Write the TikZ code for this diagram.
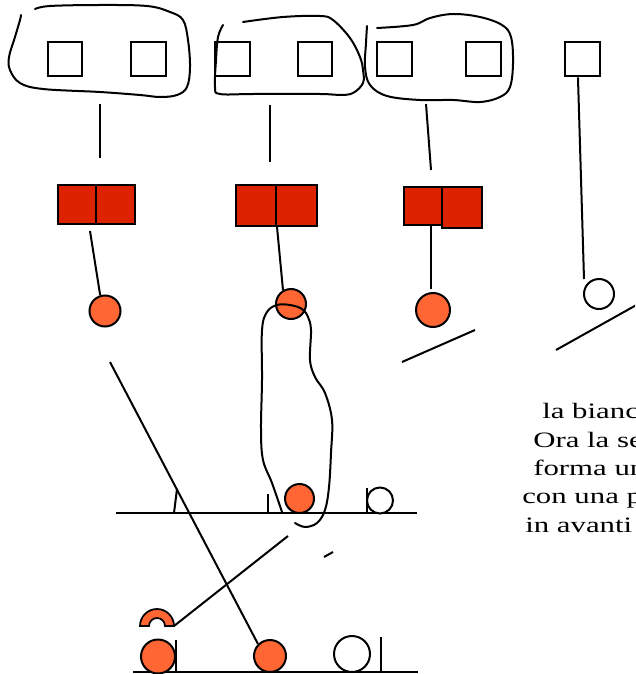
\documentclass[tikz,border=0pt]{standalone}
\usepackage{fontspec}
\setmainfont{Liberation Serif}
\usepackage{graphicx}
\usepackage{tikz}
\usetikzlibrary{calc}
\definecolor{chred}{RGB}{221,34,0}
\definecolor{chorange}{RGB}{255,102,51}

\begin{document}
\begin{tikzpicture}[
  x=0.75pt, y=-0.75pt,
  slot/.style={draw, line width=1.5pt, minimum width=26pt, minimum height=26pt, inner sep=0pt},
  redslot/.style={slot, fill=chred, minimum width=29pt, minimum height=29pt},
  ball/.style={circle, draw, line width=1.5pt, fill=chorange, inner sep=0pt, minimum size=#1},
  wball/.style={ball=#1, fill=white},
  link/.style={line width=1.5pt},
  hand/.style={line width=1.5pt, line cap=round, line join=round},
  note/.style={anchor=base west, inner sep=0pt, font=\fontsize{16.5}{19}\selectfont}
]
\useasboundingbox (0,0) rectangle (635,674);
\clip (0,0) rectangle (635,674);

% --- top row: empty slots ---
\foreach \n/\x in {s1/65, s2/148.5, s3/232.5, s4/315, s5/394.5, s6/483.5, s7/582.5}
  \node[slot] (\n) at (\x,59) {};

% --- hand drawn groups round the slots ---
\draw[hand] plot[smooth, tension=0.6] coordinates {
  (35,9) (50,6) (100,5) (147,6) (170,12) (183,20) (188,40) (190,67) (187,87)
  (177,95) (160,97) (140,95) (100,92) (43,89) (20,83) (10,70) (9,57) (15,37) (20,20) (21,15)};
\draw[hand] plot[smooth, tension=0.6] coordinates {
  (243,22) (283,17) (320,16) (333,20) (350,38) (360,57) (363,70) (363,83) (353,93)
  (340,95) (320,94) (253,94) (220,94) (215,87) (216,60) (218,37) (223,25)};
\draw[hand] plot[smooth, tension=0.6] coordinates {
  (377,28) (413,25) (430,18) (453,14) (480,17) (502,25) (511,37) (513,63) (510,87)
  (500,97) (480,102) (453,100) (420,100) (387,96) (370,85) (365,67) (366,43) (367,26)};

% --- links from the groups down to the red pairs ---
\coordinate (k1) at (100,104); \coordinate (k1e) at (100,158);
\coordinate (k2) at (270,105); \coordinate (k2e) at (270,162);
\coordinate (k3) at (426,104); \coordinate (k3e) at (431,170);
\foreach \a/\b in {k1/k1e, k2/k2e, k3/k3e} { \draw[link] (\a) -- (\b); }

% --- red pairs ---
\node[redslot] (r1a) at (77,204.5) {};
\node[redslot] (r1b) at (115.5,204.5) {};
\node[redslot, minimum width=30pt, minimum height=30.5pt] (r2a) at (256,205.5) {};
\node[redslot, minimum width=30.5pt, minimum height=30.5pt] (r2b) at (296.5,205.5) {};
\node[redslot, minimum width=28.5pt, minimum height=28.5pt] (r3a) at (423,206) {};
\node[redslot, minimum width=30pt, minimum height=30.5pt] (r3b) at (462,207.5) {};

% --- hanging balls ---
\node[ball=23.25pt] (c1) at (105,311) {};
\node[ball=22.5pt] (c2) at (291,304) {};
\node[ball=25.5pt] (c3) at (433,310) {};
\node[wball=22.5pt] (c4) at (599,294) {};

\coordinate (p1) at (90,231);
\coordinate (q3) at (431,289);
\coordinate (q4) at (584,279);
\draw[link] (p1) -- (c1.107);
\draw[link] (r2a.south east) -- (c2.120);
\draw[link] ([xshift=6pt]r3a.south) -- (q3);
\draw[link] ([xshift=-3.4pt]s7.south) -- (q4);

% ramps under the right balls
\coordinate (m3a) at (402,362); \coordinate (m3b) at (475,330);
\coordinate (m4a) at (556,350); \coordinate (m4b) at (640,303);
\draw[link] (m3a) -- (m3b);
\draw[link] (m4a) -- (m4b);

% --- middle track ---
\coordinate (t1a) at (116,513); \coordinate (t1b) at (417,513);
\draw[link] (t1a) -- (t1b);
\draw[link] (174,513) -- (177,489);
\draw[link] (268,513) -- (268,494);
\draw[link] (367,513) -- (367,488);
\node[ball=21.75pt] (m1) at (299.5,498.5) {};
\node[wball=19.5pt] (m2) at (380,500.5) {};

% --- bottom track ---
\coordinate (t2a) at (133,672); \coordinate (t2b) at (418,672);
\draw[link] (t2a) -- (t2b);
\draw[link] (176,672) -- (176,640);
\draw[link] (381,672) -- (381,637);
\node[ball=25.5pt] (b1) at (158,656.5) {};
\node[ball=24pt] (b2) at (270,656) {};
\node[wball=27pt] (b3) at (352,654) {};

% half ring above the first bottom ball
\filldraw[fill=chorange, line width=1.3pt] (140,626) arc[start angle=180, end angle=360, radius=17]
  -- (165,626) arc[start angle=0, end angle=-180, radius=8] -- cycle;
\coordinate (cap) at (174,626);

% --- crossing links ---
\coordinate (x1) at (110,362);
\coordinate (x2) at (288,536);
\draw[link] (x1) -- (b2.135);
\draw[link] (x2) -- (cap);
\draw[link] (324,557) -- (333,552);

% tall loop round the second ball
\draw[hand] plot[smooth, tension=0.6] coordinates {
  (282,512) (272,483) (263,460) (261,430) (262,380) (262,330) (267,312) (277,305)
  (290,305) (302,309) (308,317) (311,330) (310,360) (315,377) (325,393) (332,420)
  (331,453) (329,487) (325,510) (317,523) (305,527) (295,523)};

% --- note on the right ---
\node[note] (n1) at (542,418) {\scalebox{1.4}[1]{la bianca}};
\node[note] (n2) at (533,447) {\scalebox{1.4}[1]{Ora la se}};
\node[note] (n3) at (533,475) {\scalebox{1.4}[1]{forma un}};
\node[note] (n4) at (522,503) {\scalebox{1.4}[1]{con una p}};
\node[note] (n5) at (525,532) {\scalebox{1.4}[1]{in avanti}};

\end{tikzpicture}
\end{document}
